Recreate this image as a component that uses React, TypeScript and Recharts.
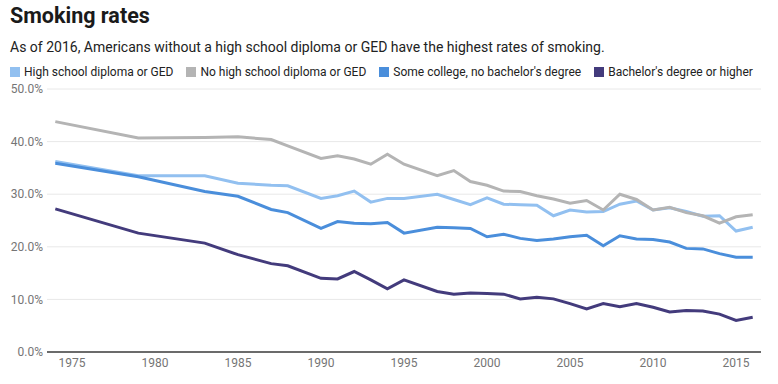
import React from 'react';
import { LineChart, Line, XAxis, YAxis, CartesianGrid } from 'recharts';

const years = [1974, 1979, 1983, 1985, 1987, 1988, 1990, 1991, 1992, 1993, 1994, 1995, 1997, 1998, 1999, 2000, 2001, 2002, 2003, 2004, 2005, 2006, 2007, 2008, 2009, 2010, 2011, 2012, 2013, 2014, 2015, 2016];

const highSchool = [36.2, 33.5, 33.5, 32.1, 31.7, 31.6, 29.2, 29.7, 30.6, 28.5, 29.2, 29.2, 30.0, 29.0, 28.0, 29.3, 28.1, 28.0, 27.9, 25.9, 27.0, 26.6, 26.7, 28.1, 28.7, 27.0, 27.4, 26.7, 25.8, 25.9, 23.0, 23.7];
const noHighSchool = [43.8, 40.7, 40.8, 40.9, 40.4, 39.2, 36.8, 37.3, 36.7, 35.7, 37.6, 35.7, 33.5, 34.5, 32.4, 31.7, 30.6, 30.5, 29.7, 29.1, 28.3, 28.8, 27.0, 30.0, 29.0, 27.0, 27.5, 26.5, 25.9, 24.5, 25.7, 26.1];
const someCollege = [35.9, 33.3, 30.5, 29.6, 27.1, 26.5, 23.5, 24.8, 24.5, 24.4, 24.6, 22.6, 23.7, 23.6, 23.5, 21.9, 22.4, 21.6, 21.2, 21.5, 21.9, 22.2, 20.2, 22.1, 21.5, 21.4, 20.9, 19.7, 19.6, 18.7, 18.0, 18.0];
const bachelors = [27.2, 22.6, 20.7, 18.5, 16.8, 16.4, 14.0, 13.9, 15.3, 13.7, 12.0, 13.7, 11.5, 11.0, 11.2, 11.1, 11.0, 10.1, 10.4, 10.1, 9.2, 8.2, 9.2, 8.6, 9.2, 8.5, 7.6, 7.9, 7.8, 7.2, 6.0, 6.6];

const xTicks = [1975, 1980, 1985, 1990, 1995, 2000, 2005, 2010, 2015];
const yTicks = [0, 10, 20, 30, 40, 50];

const title = 'Smoking rates';
const subtitle = 'As of 2016, Americans without a high school diploma or GED have the highest rates of smoking.';

const series = [
  { key: 'hs', name: 'High school diploma or GED', color: '#92c0f0', values: highSchool },
  { key: 'nohs', name: 'No high school diploma or GED', color: '#b4b4b4', values: noHighSchool },
  { key: 'college', name: "Some college, no bachelor's degree", color: '#4a8edb', values: someCollege },
  { key: 'ba', name: "Bachelor's degree or higher", color: '#433b7c', values: bachelors },
];

const data = years.map((year, i) => {
  const row: Record<string, number> = { year };
  series.forEach((s) => {
    row[s.key] = s.values[i];
  });
  return row;
});

const font = 'Roboto, "Noto Sans", Arial, sans-serif';

export default function App() {
  return (
    <div style={{ position: 'absolute', left: 0, top: 0, width: 778, height: 384, background: '#fff', fontFamily: font }}>
      <div style={{ position: 'absolute', left: 10, top: 2, fontSize: 21.5, fontWeight: 700, color: '#1a1a1a', lineHeight: '28px', whiteSpace: 'nowrap' }}>
        {title}
      </div>
      <div style={{ position: 'absolute', left: 10, top: 37, fontSize: 14, color: '#222', lineHeight: '20px', whiteSpace: 'nowrap' }}>
        {subtitle}
      </div>
      <div style={{ position: 'absolute', left: 10, top: 63, display: 'flex', alignItems: 'center', whiteSpace: 'nowrap' }}>
        {series.map((s) => (
          <div key={s.key} style={{ display: 'flex', alignItems: 'center', marginRight: 13 }}>
            <span style={{ display: 'inline-block', width: 10, height: 10, background: s.color, marginRight: 4 }} />
            <span style={{ fontSize: 12, color: '#222', lineHeight: '18px' }}>{s.name}</span>
          </div>
        ))}
      </div>
      <div style={{ position: 'absolute', left: 0, top: 0 }}>
        <LineChart width={778} height={384} data={data} margin={{ top: 89, right: 17, bottom: 8, left: 0 }}>
          <CartesianGrid vertical={false} stroke="#e8e8e8" />
          <XAxis
            dataKey="year"
            type="number"
            domain={[1973.5, 2016.5]}
            ticks={xTicks}
            interval={0}
            height={24}
            axisLine={{ stroke: '#6b6b6b', strokeWidth: 2 }}
            tickLine={false}
            tickSize={0}
            tickMargin={6}
            tick={{ fill: '#757575', fontSize: 12, fontFamily: font }}
          />
          <YAxis
            type="number"
            domain={[0, 50]}
            ticks={yTicks}
            interval={0}
            width={47}
            axisLine={false}
            tickLine={false}
            tickSize={0}
            tickMargin={4}
            tickFormatter={(v: number) => `${v.toFixed(1)}%`}
            tick={{ fill: '#757575', fontSize: 12, fontFamily: font }}
          />
          {series.map((s) => (
            <Line
              key={s.key}
              type="linear"
              dataKey={s.key}
              name={s.name}
              stroke={s.color}
              strokeWidth={3}
              dot={false}
              activeDot={false}
              isAnimationActive={false}
            />
          ))}
        </LineChart>
      </div>
    </div>
  );
}
